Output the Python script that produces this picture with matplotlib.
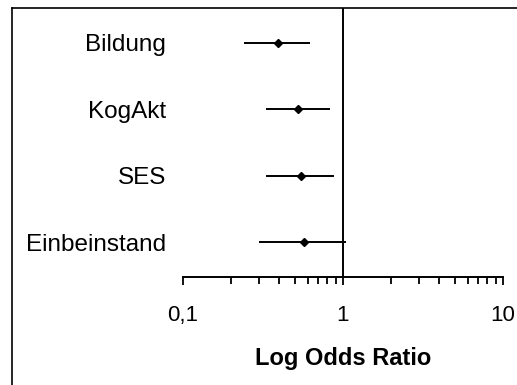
import matplotlib
matplotlib.use("Agg")
import matplotlib.pyplot as plt
from matplotlib.lines import Line2D
from matplotlib.ticker import FixedLocator, LogLocator, NullFormatter

categories = ["Bildung", "KogAkt", "SES", "Einbeinstand"]
odds = [0.39, 0.52, 0.55, 0.57]
ci_low = [0.24, 0.33, 0.33, 0.30]
ci_high = [0.62, 0.83, 0.88, 1.05]
major_ticks = [0.1, 1, 10]
major_labels = ["0,1", "1", "10"]

W, H = 517, 385
plt.rcParams['font.family'] = ['Liberation Sans', 'DejaVu Sans']
fig = plt.figure(figsize=(W / 100, H / 100), dpi=100)

ax = fig.add_axes([183 / W, 108 / H, 320 / W, 269 / H])
ypos = list(range(len(categories), 0, -1))

for y, o, lo, hi in zip(ypos, odds, ci_low, ci_high):
    ax.plot([lo, hi], [y, y], color='black', lw=1.4, solid_capstyle='butt')
    ax.plot([o], [y], marker='D', color='black', ms=4.5, lw=0)

ax.axvline(1, color='black', lw=1.4)

ax.set_xscale('log')
ax.set_xlim(0.1, 10)
ax.set_ylim(0.48, 4.52)
ax.xaxis.set_major_locator(FixedLocator(major_ticks))
ax.set_xticklabels(major_labels)
ax.xaxis.set_minor_locator(LogLocator(base=10, subs=range(2, 10)))
ax.xaxis.set_minor_formatter(NullFormatter())
ax.tick_params(axis='x', which='major', direction='out', length=6, width=1.3,
               pad=14.5, labelsize=16, colors='black')
ax.tick_params(axis='x', which='minor', direction='out', length=5, width=1.3)

ax.set_yticks(ypos)
ax.set_yticklabels(categories)
ax.tick_params(axis='y', length=0, pad=12, labelsize=17.5)

for s in ['top', 'right', 'left']:
    ax.spines[s].set_visible(False)
ax.spines['bottom'].set_linewidth(1.4)

ax.set_xlabel("Log Odds Ratio", fontsize=17, fontweight='bold', labelpad=15)

# figure frame (left and top border)
fig.add_artist(Line2D([12 / W, 12 / W], [0, 1 - 8 / H], transform=fig.transFigure,
                      color='black', lw=1.2))
fig.add_artist(Line2D([12 / W, 1], [1 - 8 / H, 1 - 8 / H], transform=fig.transFigure,
                      color='black', lw=1.2))

fig.savefig("out.png", dpi=100)
